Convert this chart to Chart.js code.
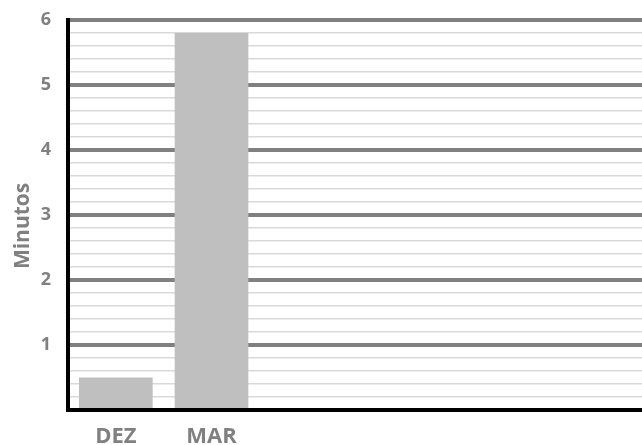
<!DOCTYPE html>
<html>
<head>
<meta charset="utf-8">
<script src="https://cdn.jsdelivr.net/npm/chart.js@4"></script>
<style>
  body { margin: 0; background: #fff; }
  #wrap { width: 642px; height: 445px; }
</style>
</head>
<body>
<div id="wrap"><canvas id="chart" width="642" height="445"></canvas></div>
<script>
const months = ['DEZ', 'MAR', '', '', '', ''];
const minutes = [0.5, 5.8, null, null, null, null];
const yTitle = 'Minutos';

function isWhole(v) {
  return Math.abs(v - Math.round(v)) < 1e-6;
}

const ctx = document.getElementById('chart').getContext('2d');
new Chart(ctx, {
  type: 'bar',
  data: {
    labels: months,
    datasets: [{
      data: minutes,
      backgroundColor: '#bfbfbf',
      borderWidth: 0,
      barPercentage: 0.77,
      categoryPercentage: 1
    }]
  },
  options: {
    responsive: false,
    animation: false,
    layout: { padding: { top: 20, right: 0, bottom: 0, left: 0 } },
    plugins: { legend: { display: false }, tooltip: { enabled: false } },
    scales: {
      x: {
        grid: { display: false },
        border: { color: '#000', width: 4 },
        ticks: {
          autoSkip: false,
          maxRotation: 0,
          padding: 6,
          color: '#808080',
          font: { family: 'Open Sans', size: 22, weight: 'bold' }
        },
        afterFit: function (scale) { scale.height = 35; }
      },
      y: {
        min: 0,
        max: 6,
        border: { color: '#000', width: 4 },
        grid: {
          drawTicks: false,
          color: function (c) {
            const v = c.tick.value;
            if (v === 0) return 'rgba(0,0,0,0)';
            return isWhole(v) ? '#808080' : '#d9d9d9';
          },
          lineWidth: function (c) {
            return isWhole(c.tick.value) ? 4 : 1.5;
          }
        },
        ticks: {
          stepSize: 0.2,
          autoSkip: false,
          padding: 17,
          color: '#808080',
          font: { family: 'Open Sans', size: 18, weight: 'bold' },
          callback: function (value) {
            if (value === 0 || !isWhole(value)) return '';
            return Math.round(value);
          }
        },
        title: {
          display: true,
          // trailing spaces push the rotated title down a bit, like the original
          text: yTitle + '    ',
          color: '#808080',
          padding: { top: 10, bottom: 0 },
          font: { family: 'Open Sans', size: 21, weight: 'bold' }
        },
        afterFit: function (scale) {
          scale.width = 68;
          scale.paddingTop = 0;
          scale.paddingBottom = 0;
        }
      }
    }
  }
});
</script>
</body>
</html>
